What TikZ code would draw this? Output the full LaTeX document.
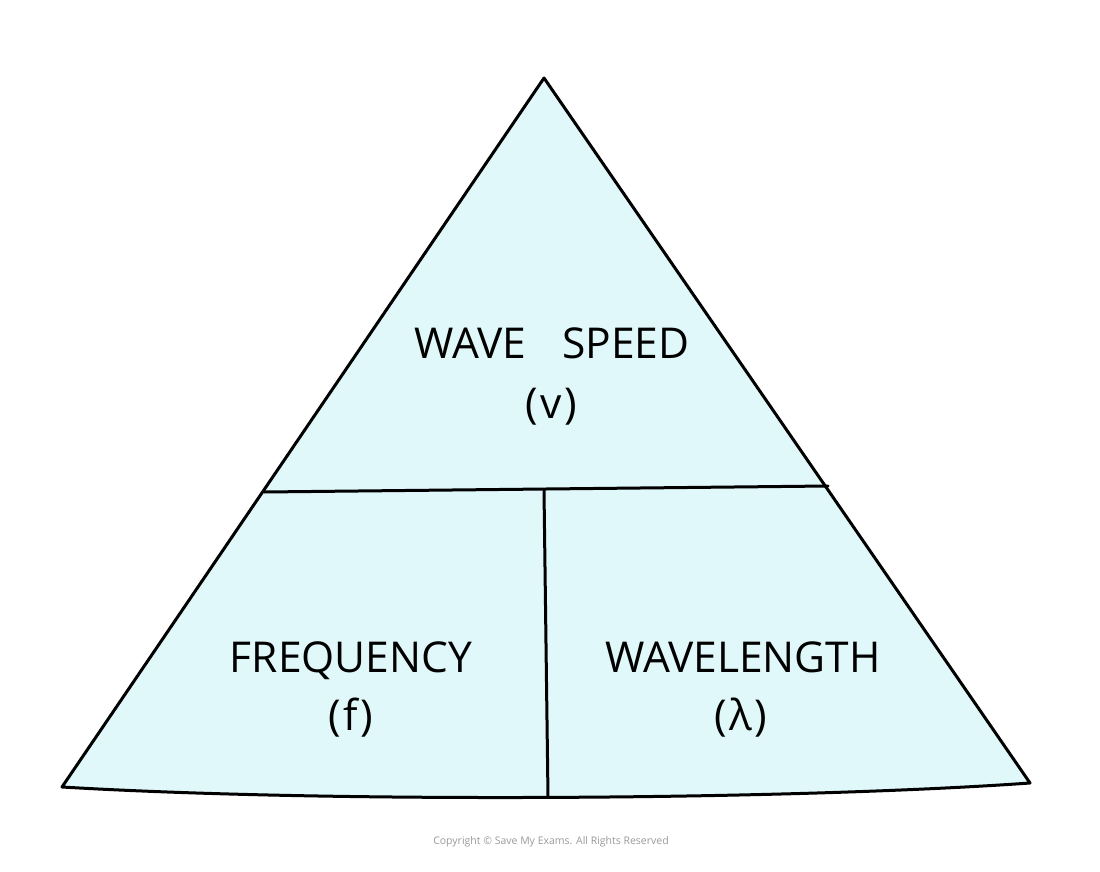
\documentclass[tikz,border=0pt]{standalone}
\usepackage{fontspec}
\setmainfont{Open Sans}
\definecolor{fillc}{HTML}{E0F8FA}
\definecolor{copyc}{HTML}{9A9A9A}
\newcommand{\psp}{\hspace{0.06em}}
\begin{document}
\begin{tikzpicture}[x=1pt,y=-1pt,
  lbl/.style={font=\fontsize{42.5}{42.5}\selectfont, inner sep=0pt, anchor=base},
  edge/.style={line width=3pt, line join=round, line cap=round}]
\useasboundingbox (0,0) rectangle (1100,872);
\fill[white] (0,0) rectangle (1100,872);
\coordinate (apex) at (544,78);
\coordinate (bl) at (62,787);
\coordinate (br) at (1030,783);
\coordinate (ml) at (264,492);
\coordinate (mr) at (828,486);
\coordinate (mt) at (544,491);
\coordinate (mb) at (548,797);
\draw[edge, fill=fillc] (apex) -- (br) .. controls (790,800) and (330,803) .. (bl) -- cycle;
\draw[edge] (ml) -- (mr);
\draw[edge] (mt) -- (mb);
\node[lbl] (ws) at (552,358) {WAVE\hspace{0.85em}SPEED};
\node[lbl] (v) at (551,418) {(\psp v\psp)};
\node[lbl] (fr) at (351,672) {FREQUENCY};
\node[lbl] (f) at (351,730) {(\psp f\psp)};
\node[lbl] (wl) at (743,672) {WAVELENGTH};
\node[lbl] (lam) at (741,730) {(\psp λ\psp)};
\node[font=\fontsize{10.5}{10.5}\selectfont, text=copyc, inner sep=0pt] (copy) at (551,842) {Copyright © Save My Exams. All Rights Reserved};
\end{tikzpicture}
\end{document}
